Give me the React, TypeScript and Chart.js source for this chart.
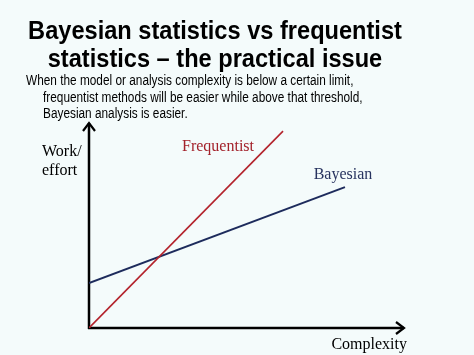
import React, { useEffect, useRef } from "react";
import { Chart, registerables } from "chart.js";

Chart.register(...registerables);

const titleLines = ["Bayesian statistics vs frequentist", "statistics \u2013 the practical issue"];
const bodyLines = [
  "When the model or analysis complexity is below a certain limit,",
  "frequentist methods will be easier while above that threshold,",
  "Bayesian analysis is easier.",
];
const seriesNames = ["Frequentist", "Bayesian"];
const complexity = {
  frequentist: [0, 6.14],
  bayesian: [0, 8.1],
};
const frequentistEffort = [0, 9.56];
const bayesianEffort = [2.18, 6.84];
const xAxisLabel = "Complexity";
const yAxisLabel = ["Work/", "effort"];

const BG = "#f4fbfb";
const RED = "#b3232c";
const NAVY = "#1d2b5c";

export default function App() {
  const ref = useRef<HTMLCanvasElement | null>(null);

  useEffect(() => {
    const canvas = ref.current;
    if (!canvas) return;

    const decor = {
      id: "decor",
      beforeDatasetsDraw(chart: any) {
        const { ctx, chartArea } = chart;
        const { left, right, top, bottom } = chartArea;
        ctx.save();
        ctx.strokeStyle = "#000";
        ctx.lineWidth = 2.5;
        ctx.lineCap = "butt";
        ctx.beginPath();
        ctx.moveTo(left, bottom + 1);
        ctx.lineTo(left, top + 1);
        ctx.moveTo(left - 1, bottom);
        ctx.lineTo(right - 1, bottom);
        ctx.stroke();
        ctx.lineWidth = 2.2;
        ctx.lineJoin = "miter";
        ctx.beginPath();
        ctx.moveTo(left - 6, top + 9);
        ctx.lineTo(left, top + 1);
        ctx.lineTo(left + 6, top + 9);
        ctx.moveTo(right - 9, bottom - 6);
        ctx.lineTo(right - 1, bottom);
        ctx.lineTo(right - 9, bottom + 6);
        ctx.stroke();
        ctx.restore();
      },
      afterDraw(chart: any) {
        const { ctx, chartArea } = chart;
        const xs = chart.scales.x;
        const ys = chart.scales.y;
        ctx.save();
        ctx.font = '16px "Liberation Serif", "Times New Roman", serif';
        ctx.textBaseline = "middle";
        ctx.textAlign = "center";
        ctx.fillStyle = "#a3222b";
        ctx.fillText(seriesNames[0], xs.getPixelForValue(complexity.frequentist[1]) - 65, ys.getPixelForValue(frequentistEffort[1]) + 16);
        ctx.fillStyle = "#27335f";
        ctx.fillText(seriesNames[1], xs.getPixelForValue(complexity.bayesian[1]) - 2, ys.getPixelForValue(bayesianEffort[1]) - 12);
        ctx.fillStyle = "#000";
        ctx.textAlign = "right";
        ctx.fillText(xAxisLabel, chartArea.right + 2, chartArea.bottom + 17);
        ctx.textAlign = "left";
        ctx.fillText(yAxisLabel[0], 42, 152);
        ctx.fillText(yAxisLabel[1], 42, 171);
        ctx.restore();
      },
    };

    const chart = new Chart(canvas, {
      type: "scatter",
      data: {
        datasets: [
          {
            label: seriesNames[0],
            data: complexity.frequentist.map((x, i) => ({ x, y: frequentistEffort[i] })),
            showLine: true,
            borderColor: RED,
            borderWidth: 1.6,
            pointRadius: 0,
          },
          {
            label: seriesNames[1],
            data: complexity.bayesian.map((x, i) => ({ x, y: bayesianEffort[i] })),
            showLine: true,
            borderColor: NAVY,
            borderWidth: 2,
            pointRadius: 0,
          },
        ],
      },
      options: {
        responsive: false,
        animation: false,
        events: [],
        layout: { padding: { left: 89, right: 69, top: 122, bottom: 27 } },
        plugins: { legend: { display: false }, tooltip: { enabled: false }, title: { display: false } },
        scales: {
          x: { type: "linear", min: 0, max: 10, display: false },
          y: { type: "linear", min: 0, max: 10, display: false },
        },
      },
      plugins: [decor],
    });
    return () => chart.destroy();
  }, []);

  const sans = '"Liberation Sans", Arial, Helvetica, sans-serif';
  return (
    <div style={{ position: "absolute", left: 0, top: 0, width: 474, height: 355, background: BG, overflow: "hidden" }}>
      <canvas ref={ref} width={474} height={355} style={{ position: "absolute", left: 0, top: 0, width: 474, height: 355 }} />
      {titleLines.map((t, i) => (
        <div
          key={"t" + i}
          style={{
            position: "absolute",
            left: 0,
            width: 430,
            top: 16 + i * 28,
            textAlign: "center",
            fontFamily: sans,
            fontWeight: "bold",
            fontSize: 25,
            lineHeight: "28px",
            whiteSpace: "nowrap",
            color: "#000",
            transform: "scaleX(0.944)",
            transformOrigin: "215px 0",
          }}
        >
          {t}
        </div>
      ))}
      {bodyLines.map((t, i) => (
        <div
          key={"b" + i}
          style={{
            position: "absolute",
            left: i === 0 ? 26 : 43,
            top: 72 + i * 16.5,
            fontFamily: sans,
            fontSize: 14,
            lineHeight: "16px",
            whiteSpace: "nowrap",
            color: "#000",
            transform: "scaleX(0.845)",
            transformOrigin: "0 0",
          }}
        >
          {t}
        </div>
      ))}
    </div>
  );
}
